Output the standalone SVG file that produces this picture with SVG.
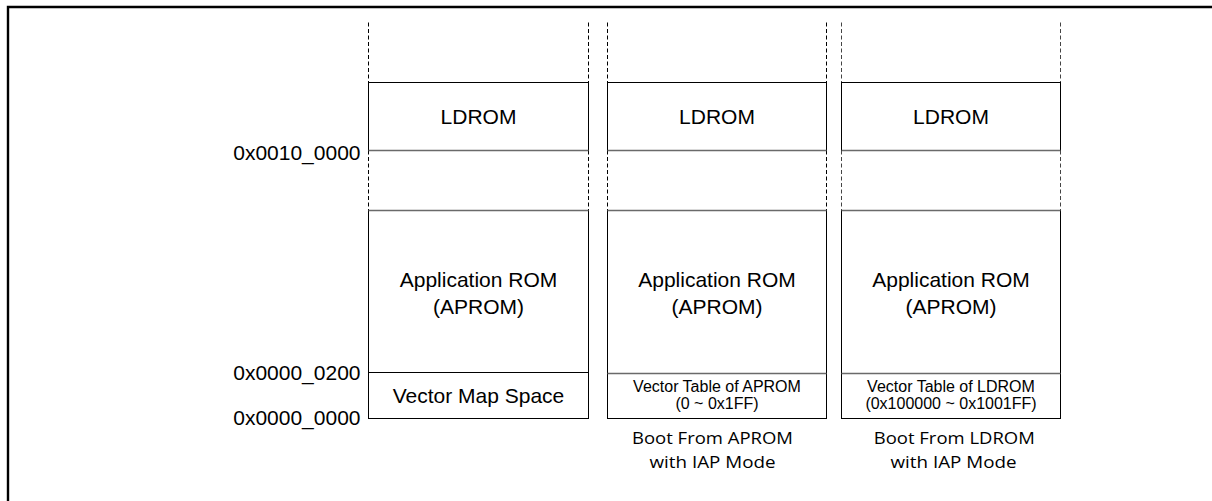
<svg xmlns="http://www.w3.org/2000/svg" width="1212" height="501" viewBox="0 0 1212 501">
<style>
  .box{fill:#fff;stroke:#000;stroke-width:1}
  .gl{stroke:#6a6a6a;stroke-width:1.3;fill:none}
  .dash{stroke:#000;stroke-width:1;stroke-dasharray:4 2.5;fill:none}
  .t{font-family:"Liberation Sans",Arial,sans-serif;font-size:21px;fill:#000;text-anchor:middle}
  .ts{font-family:"Liberation Sans",Arial,sans-serif;font-size:16px;fill:#000;text-anchor:middle}
  .addr{font-family:"Liberation Sans",Arial,sans-serif;font-size:21px;fill:#000;text-anchor:end}
  .cap{font-family:"Open Sans","Noto Sans",sans-serif;font-size:17px;fill:#000;text-anchor:middle}
</style>
<rect width="1212" height="501" fill="#fff"/>
<path d="M8,501 V7 H1212" fill="none" stroke="#000" stroke-width="2.4"/>

<g transform="translate(0.5,0.5)">
<g id="connectors">
  <path class="dash" d="M368,22V82 M368,150V210 M588,22V82 M588,150V210"/>
  <path class="dash" d="M607,22V82 M607,150V210 M826,22V82 M826,150V210"/>
  <path class="dash" d="M841,22V82 M841,150V210 M1060,22V82 M1060,150V210" style="stroke:#444"/>
</g>

<g id="addresses">
  <text class="addr" x="360" y="159">0x0010_0000</text>
  <text class="addr" x="360" y="379">0x0000_0200</text>
  <text class="addr" x="360" y="424">0x0000_0000</text>
</g>

<g id="col1">
  <g id="col1-ldrom"><rect class="box" x="368" y="82" width="220" height="68"/><line class="gl" x1="368" y1="150" x2="588" y2="150"/><text class="t" x="478" y="123.5">LDROM</text></g>
  <g id="col1-aprom"><rect class="box" x="368" y="210" width="220" height="162"/><line class="gl" x1="368" y1="210" x2="588" y2="210"/><text class="t" x="478" y="286">Application ROM</text><text class="t" x="478" y="313">(APROM)</text></g>
  <g id="col1-vec"><rect class="box" x="368" y="372" width="220" height="46"/><text class="t" x="478" y="402">Vector Map Space</text></g>
</g>

<g id="col2">
  <g id="col2-ldrom"><rect class="box" x="607" y="82" width="219" height="68"/><line class="gl" x1="607" y1="150" x2="826" y2="150"/><text class="t" x="716.5" y="123.5">LDROM</text></g>
  <g id="col2-aprom"><rect class="box" x="607" y="210" width="219" height="163"/><line class="gl" x1="607" y1="210" x2="826" y2="210"/><text class="t" x="716.5" y="286">Application ROM</text><text class="t" x="716.5" y="313">(APROM)</text></g>
  <g id="col2-vec"><rect class="box" x="607" y="373" width="219" height="45"/><line class="gl" x1="607" y1="373" x2="826" y2="373"/><text class="ts" x="716.5" y="391">Vector Table of APROM</text><text class="ts" x="716.5" y="408">(0 ~ 0x1FF)</text></g>
  <g id="col2-caption"><text class="cap" x="712" y="443" textLength="161" lengthAdjust="spacingAndGlyphs">Boot From APROM</text><text class="cap" x="712" y="467" textLength="126" lengthAdjust="spacingAndGlyphs">with IAP Mode</text></g>
</g>

<g id="col3">
  <g id="col3-ldrom"><rect class="box" x="841" y="82" width="219" height="68"/><line class="gl" x1="841" y1="150" x2="1060" y2="150"/><text class="t" x="950.5" y="123.5">LDROM</text></g>
  <g id="col3-aprom"><rect class="box" x="841" y="210" width="219" height="163"/><line class="gl" x1="841" y1="210" x2="1060" y2="210"/><text class="t" x="950.5" y="286">Application ROM</text><text class="t" x="950.5" y="313">(APROM)</text></g>
  <g id="col3-vec"><rect class="box" x="841" y="373" width="219" height="45"/><line class="gl" x1="841" y1="373" x2="1060" y2="373"/><text class="ts" x="950.5" y="391">Vector Table of LDROM</text><text class="ts" x="950.5" y="408">(0x100000 ~ 0x1001FF)</text></g>
  <g id="col3-caption"><text class="cap" x="953.8" y="443" textLength="161" lengthAdjust="spacingAndGlyphs">Boot From LDROM</text><text class="cap" x="953" y="467" textLength="126" lengthAdjust="spacingAndGlyphs">with IAP Mode</text></g>
</g>
</g>
</svg>
